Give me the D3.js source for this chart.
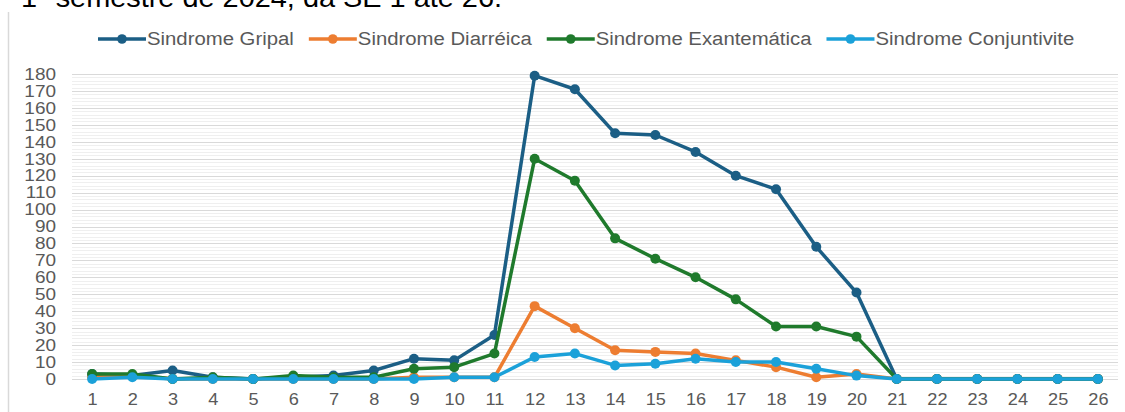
<!DOCTYPE html>
<html><head><meta charset="utf-8">
<script src="https://cdn.jsdelivr.net/npm/d3@7"></script>
<style>body{margin:0;background:#fff;}svg{display:block;font-family:"Liberation Sans",Arial,sans-serif;}</style>
</head><body><svg id="c" width="1125" height="412"></svg>
<script>
const weeks = d3.range(1, 27).map(String);
const seriesNames = ["Sindrome Gripal", "Sindrome Diarréica", "Sindrome Exantemática", "Sindrome Conjuntivite"];
const gripal =       [3,2,5,1,0,1,2,5,12,11,26,179,171,145,144,134,120,112,78,51,0,0,0,0,0,0];
const diarreica =    [1,2,0,0,0,0,0,0,1,1,1,43,30,17,16,15,11,7,1,3,0,0,0,0,0,0];
const exantematica = [3,3,0,1,0,2,1,1,6,7,15,130,117,83,71,60,47,31,31,25,0,0,0,0,0,0];
const conjuntivite = [0,1,0,0,0,0,0,0,0,1,1,13,15,8,9,12,10,10,6,2,0,0,0,0,0,0];
const colors = ["#1b5e85", "#ed7d31", "#1f7a2c", "#1ba1d9"];
const yTicks = d3.range(0, 181, 10);
const seriesData = [gripal, diarreica, exantematica, conjuntivite];

const svg = d3.select("#c");
const x = d3.scalePoint().domain(weeks).range([72, 1118]).padding(0.5);
const y = d3.scaleLinear().domain([0, 180]).range([379, 74]);

// top cut-off caption
svg.append("text").attr("transform", "translate(21,7) scale(1.07,1)").attr("font-size", 27).attr("fill", "#000")
  .text("1º semestre de 2024, da SE 1 até 26.");
// left frame line
svg.append("line").attr("x1", 8.5).attr("x2", 8.5).attr("y1", 12).attr("y2", 412)
  .attr("stroke", "#d9d9d9").attr("stroke-width", 1.5);

// grid
const g = svg.append("g");
g.selectAll("line.minor").data(d3.range(0, 181, 2).filter(v => v % 10 !== 0)).join("line")
  .attr("x1", 72).attr("x2", 1118).attr("y1", d => Math.round(y(d)) + 0.5).attr("y2", d => Math.round(y(d)) + 0.5)
  .attr("stroke", "#efefef").attr("stroke-width", 1);
g.selectAll("line.major").data(yTicks).join("line")
  .attr("x1", 72).attr("x2", 1118).attr("y1", d => Math.round(y(d)) + 0.5).attr("y2", d => Math.round(y(d)) + 0.5)
  .attr("stroke", "#d9d9d9").attr("stroke-width", 1);

// y axis
const yAxis = svg.append("g").attr("transform", "translate(56,0)")
  .call(d3.axisLeft(y).tickValues(yTicks).tickSize(0).tickPadding(0));
yAxis.select(".domain").remove();
yAxis.selectAll("text").attr("font-size", 16.5).attr("fill", "#595959")
  .attr("font-family", "Liberation Sans, Arial, sans-serif").attr("transform", "scale(1.15,1)");

// x axis
const xAxis = svg.append("g").attr("transform", "translate(0,393)")
  .call(d3.axisBottom(x).tickSize(0).tickPadding(0));
xAxis.select(".domain").remove();
xAxis.selectAll("text").attr("font-size", 16.5).attr("fill", "#595959")
  .attr("font-family", "Liberation Sans, Arial, sans-serif").attr("transform", "scale(1.1,1)");

// lines
const line = d3.line().x((d, i) => x(weeks[i])).y(d => y(d));
seriesData.forEach((s, k) => {
  svg.append("path").datum(s).attr("d", line).attr("fill", "none")
    .attr("stroke", colors[k]).attr("stroke-width", 3.5).attr("stroke-linejoin", "round");
  svg.append("g").selectAll("circle").data(s).join("circle")
    .attr("cx", (d, i) => x(weeks[i])).attr("cy", d => y(d)).attr("r", 5).attr("fill", colors[k]);
});

// legend
const leg = svg.append("g");
let lx = 98;
seriesNames.forEach((n, k) => {
  leg.append("line").attr("x1", lx).attr("x2", lx + 48).attr("y1", 39).attr("y2", 39)
    .attr("stroke", colors[k]).attr("stroke-width", 3.5);
  leg.append("circle").attr("cx", lx + 24).attr("cy", 39).attr("r", 4.8).attr("fill", colors[k]);
  const t = leg.append("text").attr("transform", `translate(${lx + 49},45) scale(1.13,1)`)
    .attr("font-size", 18).attr("fill", "#595959").text(n);
  lx += 49 + t.node().getComputedTextLength() * 1.13 + 15;
});
</script></body></html>
